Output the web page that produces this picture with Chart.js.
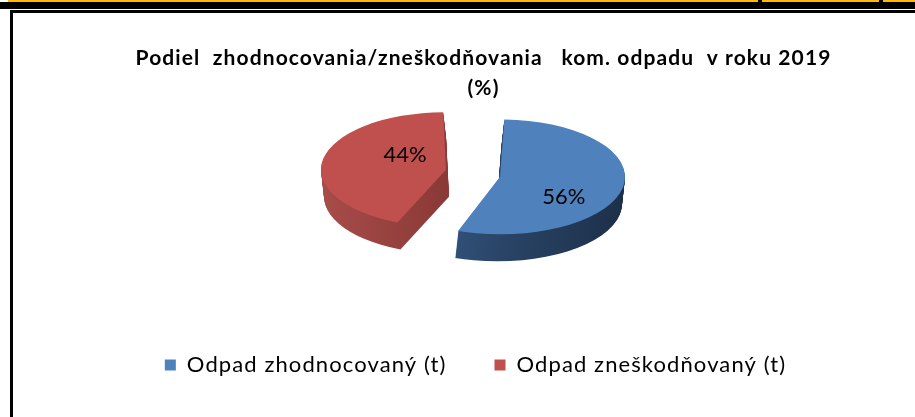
<!DOCTYPE html>
<html>
<head>
<meta charset="utf-8">
<style>
  html, body { margin: 0; padding: 0; background: #fff; overflow: hidden; }
  #wrap { position: relative; width: 915px; height: 417px; }
  #wrap div { position: absolute; }
  canvas { position: absolute; left: 0; top: 0; }
</style>
<script src="https://cdn.jsdelivr.net/npm/chart.js@4"></script>
</head>
<body>
<div id="wrap">
  <div style="left:8px;top:0;width:907px;height:2px;background:#ffb900"></div>
  <div style="left:758px;top:0;width:4px;height:2px;background:#000"></div>
  <div style="left:879px;top:0;width:4px;height:2px;background:#000"></div>
  <div style="left:0;top:2px;width:915px;height:7px;background:#000"></div>
  <div style="left:10px;top:10px;width:905px;height:3px;background:#000"></div>
  <div style="left:10px;top:10px;width:3px;height:407px;background:#000"></div>
  <canvas id="chart" width="915" height="417"></canvas>
</div>
<script>
const categories = ["Odpad zhodnocovaný (t)", "Odpad zneškodňovaný (t)"];
const shares = [56, 44];
const titleLines = ["Podiel  zhodnocovania/zneškodňovania   kom. odpadu  v roku 2019", "(%)"];
const sliceColors = ["#4f81bd", "#c0504d"];

// the pie is squashed and given a wall to look like the excel 3d pie
const squash = 0.46;
const pieX = 473;
const pieY = 172;
const depth = 27;
const wallColors = [["#3f6594", "#2a4568", "#1c2f48"], ["#a84d4a", "#8a3937", "#8c3a38"]];
const nudgeY = [2.5, 0];
const wallDx = [-3, 3];
const labelShift = [[16, 16], [12, -10]];
const legendShift = 8;
const textSpacing = "1.1px";
const sliceRadius = 125;

const pie3d = {
  id: "pie3d",
  beforeLayout(chart) {
    chart.ctx.letterSpacing = textSpacing;
  },
  afterLayout(chart) {
    chart.legend.left -= legendShift;
    chart.legend.right -= legendShift;
  },
  beforeDatasetDraw(chart) {
    const ctx = chart.ctx;
    const arcs = chart.getDatasetMeta(0).data;

    function place(i, dx, dy) {
      ctx.translate(pieX - arcs[i].x + dx, pieY + nudgeY[i] + dy);
      ctx.scale(1, squash);
      ctx.translate(0, -arcs[i].y);
    }

    // arc.draw grows the radius by the offset, take that back so both slices keep the same size
    arcs.forEach((arc) => {
      const off = arc.options.offset / 4;
      arc.outerRadius = sliceRadius - off * (1 - Math.sin(Math.min(Math.PI, arc.circumference)));
    });

    // walls first, from the bottom layer up
    arcs.forEach((arc, i) => {
      const grad = ctx.createLinearGradient(arc.x - 130, 0, arc.x + 130, 0);
      grad.addColorStop(0, wallColors[i][0]);
      grad.addColorStop(0.5, wallColors[i][1]);
      grad.addColorStop(1, wallColors[i][2]);
      const saved = arc.options.backgroundColor;
      arc.options.backgroundColor = grad;
      for (let d = depth; d > 0; d--) {
        ctx.save();
        place(i, wallDx[i] * d / depth, d);
        arc.draw(ctx);
        ctx.restore();
      }
      arc.options.backgroundColor = saved;
    });

    // top faces
    arcs.forEach((arc, i) => {
      ctx.save();
      place(i, 0, 0);
      arc.draw(ctx);
      ctx.restore();
    });

    // percent labels, chart.js draws the offset at a quarter of its value
    ctx.save();
    ctx.letterSpacing = "0px";
    ctx.fillStyle = "#000";
    ctx.font = "22px Lato";
    ctx.textAlign = "center";
    ctx.textBaseline = "middle";
    arcs.forEach((arc, i) => {
      const a = (arc.startAngle + arc.endAngle) / 2;
      const r = arc.outerRadius / 2 + arc.options.offset / 4;
      const x = pieX + Math.cos(a) * r + labelShift[i][0];
      const y = pieY + nudgeY[i] + Math.sin(a) * r * squash + labelShift[i][1];
      ctx.fillText(shares[i] + "%", x, y);
    });
    ctx.restore();
    return false;
  },
};

new Chart(document.getElementById("chart"), {
  type: "pie",
  data: {
    labels: categories,
    datasets: [{
      data: shares,
      backgroundColor: sliceColors,
      borderWidth: 0,
      offset: 110,
      radius: 125,
      clip: false,
    }],
  },
  options: {
    responsive: false,
    animation: false,
    layout: { padding: { left: 52, top: 43, bottom: 31 } },
    plugins: {
      tooltip: { enabled: false },
      title: {
        display: true,
        text: titleLines,
        color: "#000",
        font: { family: "Lato", size: 21, weight: "bold", lineHeight: 1.43 },
        padding: 0,
      },
      legend: {
        position: "bottom",
        labels: {
          color: "#000",
          boxWidth: 11,
          boxHeight: 11,
          padding: 48,
          font: { family: "Lato", size: 22 },
        },
      },
    },
  },
  plugins: [pie3d],
});
</script>
</body>
</html>
